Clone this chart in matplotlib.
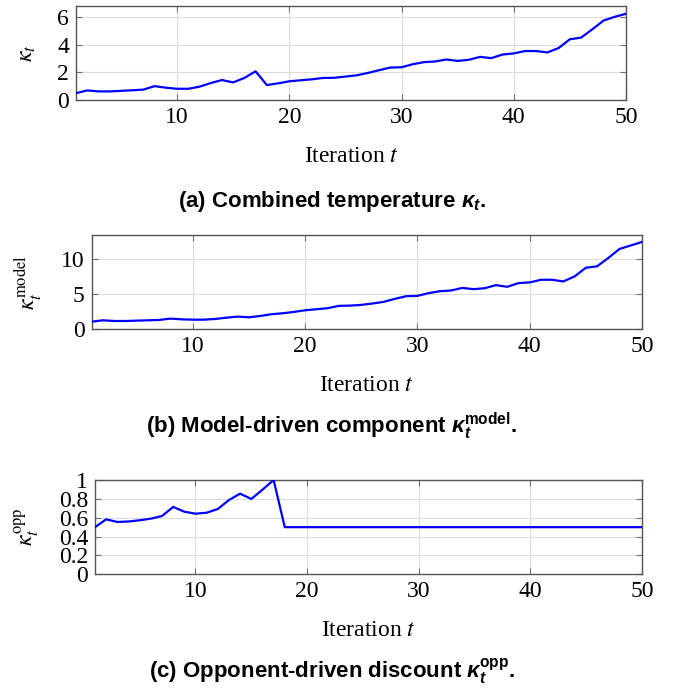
import matplotlib
matplotlib.use("Agg")
import matplotlib.pyplot as plt
import numpy as np

plt.rcParams["font.family"] = ["Liberation Serif", "DejaVu Serif"]
plt.rcParams["mathtext.fontset"] = "custom"
plt.rcParams["mathtext.rm"] = "Liberation Sans"
plt.rcParams["mathtext.it"] = "Liberation Sans:italic"
plt.rcParams["mathtext.bf"] = "Liberation Sans:bold"
plt.rcParams["mathtext.bfit"] = "Liberation Sans:bold:italic"
plt.rcParams["mathtext.sf"] = "Liberation Sans"

iterations = np.arange(1, 51)

kappa_combined = [
    0.49, 0.69, 0.62, 0.62, 0.66, 0.70, 0.75, 1.00, 0.89, 0.81,
    0.81, 0.96, 1.22, 1.44, 1.27, 1.59, 2.07, 1.08, 1.20, 1.35,
    1.42, 1.49, 1.59, 1.60, 1.69, 1.78, 1.95, 2.15, 2.34, 2.36,
    2.58, 2.73, 2.78, 2.92, 2.82, 2.90, 3.11, 3.02, 3.28, 3.36,
    3.53, 3.53, 3.43, 3.75, 4.38, 4.50, 5.10, 5.73, 6.00, 6.22,
]
kappa_model = [
    1.05, 1.25, 1.15, 1.15, 1.20, 1.25, 1.30, 1.49, 1.39, 1.34,
    1.34, 1.44, 1.63, 1.78, 1.68, 1.87, 2.12, 2.26, 2.45, 2.69,
    2.84, 2.98, 3.32, 3.36, 3.46, 3.66, 3.90, 4.33, 4.71, 4.76,
    5.15, 5.43, 5.53, 5.90, 5.72, 5.86, 6.30, 6.06, 6.59, 6.69,
    7.07, 7.07, 6.83, 7.55, 8.80, 9.00, 10.20, 11.50, 12.00, 12.50,
]
kappa_opp = [
    0.50, 0.583, 0.555, 0.56, 0.573, 0.59, 0.618, 0.714, 0.664, 0.643,
    0.653, 0.692, 0.788, 0.855, 0.799, 0.897, 1.00, 0.50, 0.50, 0.50,
    0.50, 0.50, 0.50, 0.50, 0.50, 0.50, 0.50, 0.50, 0.50, 0.50,
    0.50, 0.50, 0.50, 0.50, 0.50, 0.50, 0.50, 0.50, 0.50, 0.50,
    0.50, 0.50, 0.50, 0.50, 0.50, 0.50, 0.50, 0.50, 0.50, 0.50,
]

x_ticks = [10, 20, 30, 40, 50]
y_ticks_a = [0, 2, 4, 6]
y_ticks_b = [0, 5, 10]
y_ticks_c = [0, 0.2, 0.4, 0.6, 0.8, 1]
y_labels_c = ["0", "0.2", "0.4", "0.6", "0.8", "1"]

W, H = 678, 692
fig = plt.figure(figsize=(W / 100, H / 100), dpi=100)

TICK_FS = 17
CAP_FS = 16


def px_axes(left, top, right, bottom):
    return fig.add_axes([left / W, 1 - bottom / H, (right - left) / W, (bottom - top) / H])


def style(ax, series, ylim, yticks, ylabels=None):
    ax.plot(iterations, series, color="#0000ff", lw=1.6, zorder=3)
    ax.set_xlim(1, 50)
    ax.set_ylim(*ylim)
    ax.set_xticks(x_ticks)
    ax.set_yticks(yticks)
    if ylabels is not None:
        ax.set_yticklabels(ylabels)
    ax.grid(True, color="#dcdcdc", lw=0.8, zorder=0)
    ax.tick_params(direction="in", top=True, right=True, length=4, width=0.8,
                   color="#707070", labelsize=TICK_FS, pad=5)
    for s in ax.spines.values():
        s.set_color("#555555")
        s.set_linewidth(1.0)


panels = [
    (px_axes(76, 6, 626, 100), kappa_combined, (0, 6.78), y_ticks_a, None,
     r"$\kappa_t$", 28, 162, 207,
     r"(a) Combined temperature $\boldsymbol{\kappa}_{\boldsymbol{t}}$."),
    (px_axes(91.7, 235, 642, 329), kappa_model, (0, 13.5), y_ticks_b, None,
     r"$\kappa_t^{\mathrm{model}}$", 28, 391, 433,
     r"(b) Model-driven component $\boldsymbol{\kappa}_{\boldsymbol{t}}^{\mathbf{model}}$."),
    (px_axes(95, 480, 642, 574.3), kappa_opp, (0, 1), y_ticks_c, y_labels_c,
     r"$\kappa_t^{\mathrm{opp}}$", 27, 636, 678,
     r"(c) Opponent-driven discount $\boldsymbol{\kappa}_{\boldsymbol{t}}^{\mathbf{opp}}$."),
]

for ax, series, ylim, yt, yl, ylab, ylx, xlab_y, cap_y, caption in panels:
    style(ax, series, ylim, yt, yl)
    bb = ax.get_position()
    cx = (bb.x0 + bb.x1) / 2
    fig.text(cx, 1 - xlab_y / H, "Iteration $t$", ha="center", va="baseline",
             fontsize=TICK_FS, math_fontfamily="stix")
    fig.text(ylx / W, (bb.y0 + bb.y1) / 2, ylab, rotation=90, ha="center", va="center",
             fontsize=TICK_FS, math_fontfamily="stix")
    fig.text(332 / W, 1 - cap_y / H, caption, ha="center", va="baseline",
             fontsize=CAP_FS, family="Liberation Sans", weight="bold",
             math_fontfamily="custom")

fig.savefig("out.png", dpi=100)
